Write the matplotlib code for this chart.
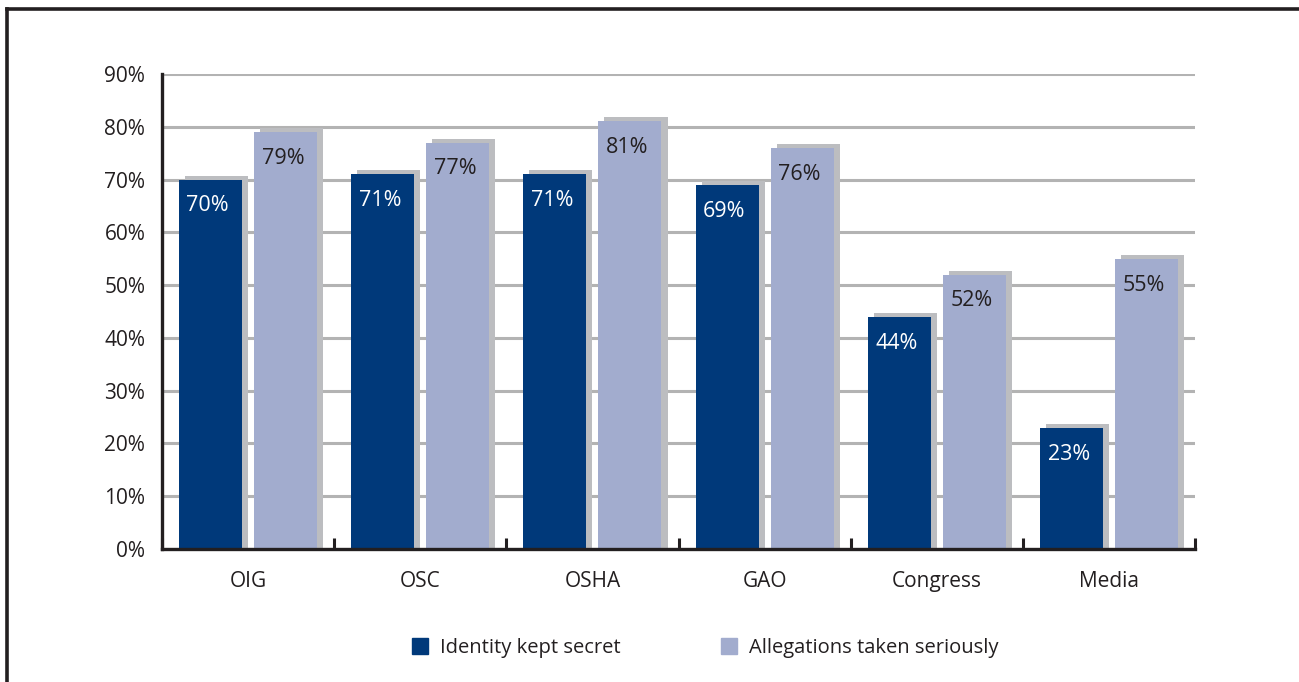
import numpy as np
import matplotlib
matplotlib.use("Agg")
import matplotlib.pyplot as plt
from matplotlib.lines import Line2D
from matplotlib.patches import Patch

plt.rcParams['font.family'] = ['Open Sans', 'DejaVu Sans']

# ==== 数据 ====
agencies = ["OIG", "OSC", "OSHA", "GAO", "Congress", "Media"]
identity_secret = [70, 71, 71, 69, 44, 23]
taken_seriously = [79, 77, 81, 76, 52, 55]
series_names = ["Identity kept secret", "Allegations taken seriously"]

dark_blue = "#00397a"
light_blue = "#a2acce"
shadow = "#bcbdc0"
ink = "#231f20"

fig = plt.figure(figsize=(12.99, 6.82), dpi=100)
ax = fig.add_axes([0.1247, 0.195, 0.9200 - 0.1247, 0.8915 - 0.195])

x = np.arange(len(agencies))
w = 0.366
off = 0.218
sx, sy = 0.035, 0.76   # 阴影偏移

for vals, pos, col, tcol in [(identity_secret, x - off, dark_blue, "white"),
                             (taken_seriously, x + off, light_blue, ink)]:
    ax.bar(pos + sx, np.array(vals) + sy, width=w, color=shadow, zorder=2)
    bars = ax.bar(pos, vals, width=w, color=col, zorder=3)
    for b, v in zip(bars, vals):
        ax.annotate(f"{v}%", (b.get_x() + b.get_width() / 2, v),
                    xytext=(-2, -19), textcoords="offset points",
                    ha="center", va="center", color=tcol, fontsize=15.5, zorder=4)

ax.set_xlim(-0.5, len(agencies) - 0.5)
ax.set_ylim(0, 90)
ax.set_yticks(range(0, 91, 10))
ax.set_yticklabels([f"{v}%" for v in range(0, 91, 10)], fontsize=15, color=ink)
ax.yaxis.grid(True, color="#b3b3b3", linewidth=2.2, zorder=1)
ax.set_axisbelow(True)
ax.tick_params(axis="y", length=0, pad=12)

ax.set_xticks(np.arange(-0.5, len(agencies), 1.0))
ax.set_xticklabels([])
ax.set_xticks(x, minor=True)
ax.set_xticklabels(agencies, minor=True, fontsize=15, color=ink)
ax.tick_params(axis="x", which="major", direction="in", length=8, width=2.2, color=ink)
ax.tick_params(axis="x", which="minor", length=0, pad=16)

for s in ["top", "right"]:
    ax.spines[s].set_visible(False)
for s in ["left", "bottom"]:
    ax.spines[s].set_color(ink)
    ax.spines[s].set_linewidth(2.4)
    ax.spines[s].set_zorder(5)

# 外框
fig.add_artist(Line2D([7 / 1299, 1], [1 - 9 / 682, 1 - 9 / 682], color=ink, lw=2.6,
                      transform=fig.transFigure))
fig.add_artist(Line2D([7 / 1299, 7 / 1299], [0, 1 - 9 / 682], color=ink, lw=2.6,
                      transform=fig.transFigure))

handles = [Patch(color=dark_blue), Patch(color=light_blue)]
fig.legend(handles, series_names, loc="center", bbox_to_anchor=(0.543, 1 - 648 / 682),
           ncol=2, frameon=False, fontsize=14.5, handlelength=0.8, handleheight=0.8,
           columnspacing=5.0, handletextpad=0.6, labelcolor=ink)

fig.savefig("out.png", dpi=100)
